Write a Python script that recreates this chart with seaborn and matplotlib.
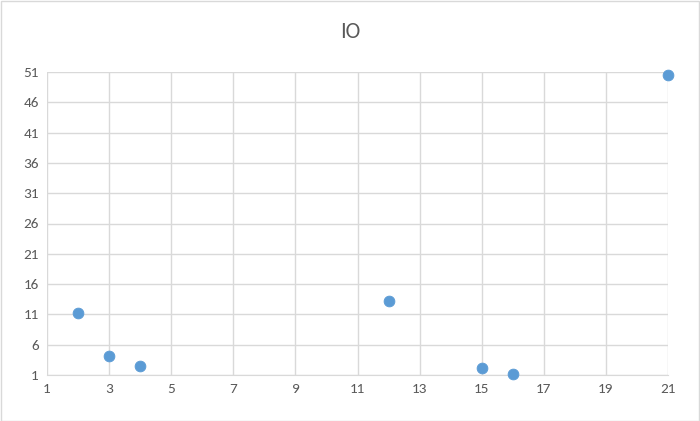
import matplotlib
matplotlib.use("Agg")
import matplotlib.pyplot as plt
import seaborn as sns
import pandas as pd

x_vals = [2, 3, 4, 12, 15, 16, 21]
y_vals = [11.2, 4.1, 2.5, 13.2, 2.2, 1.2, 50.5]
x_ticks = list(range(1, 22, 2))
y_ticks = list(range(1, 52, 5))

sns.set_style("white")
plt.rcParams['font.family'] = ['Carlito', 'Liberation Sans', 'DejaVu Sans']
df = pd.DataFrame({"x": x_vals, "y": y_vals})

fig = plt.figure(figsize=(7, 4.21), dpi=100)
ax = fig.add_axes([47/700, 1-375/421, (668-47)/700, (375-72)/421])
sns.scatterplot(data=df, x="x", y="y", ax=ax, color="#5B9BD5", s=60, edgecolor="#5B9BD5", zorder=3, clip_on=False)
ax.set_xlim(1, 21)
ax.set_ylim(1, 51)
ax.set_xticks(x_ticks)
ax.set_yticks(y_ticks)
ax.grid(True, color="#D9D9D9", linewidth=1)
for s in ax.spines.values():
    s.set_visible(False)
ax.spines['bottom'].set_visible(True)
ax.spines['bottom'].set_color("#D9D9D9")
ax.tick_params(colors="#595959", labelsize=11, length=0, pad=6)
ax.set_xlabel("")
ax.set_ylabel("")
fig.text(0.5, 1-32/421, "IO", ha="center", va="center", fontsize=16, color="#595959")
fig.patches.append(plt.Rectangle((0.001, 0.001), 0.997, 0.997, transform=fig.transFigure,
                                 fill=False, edgecolor="#D9D9D9", linewidth=1))
fig.savefig("out.png", dpi=100)
